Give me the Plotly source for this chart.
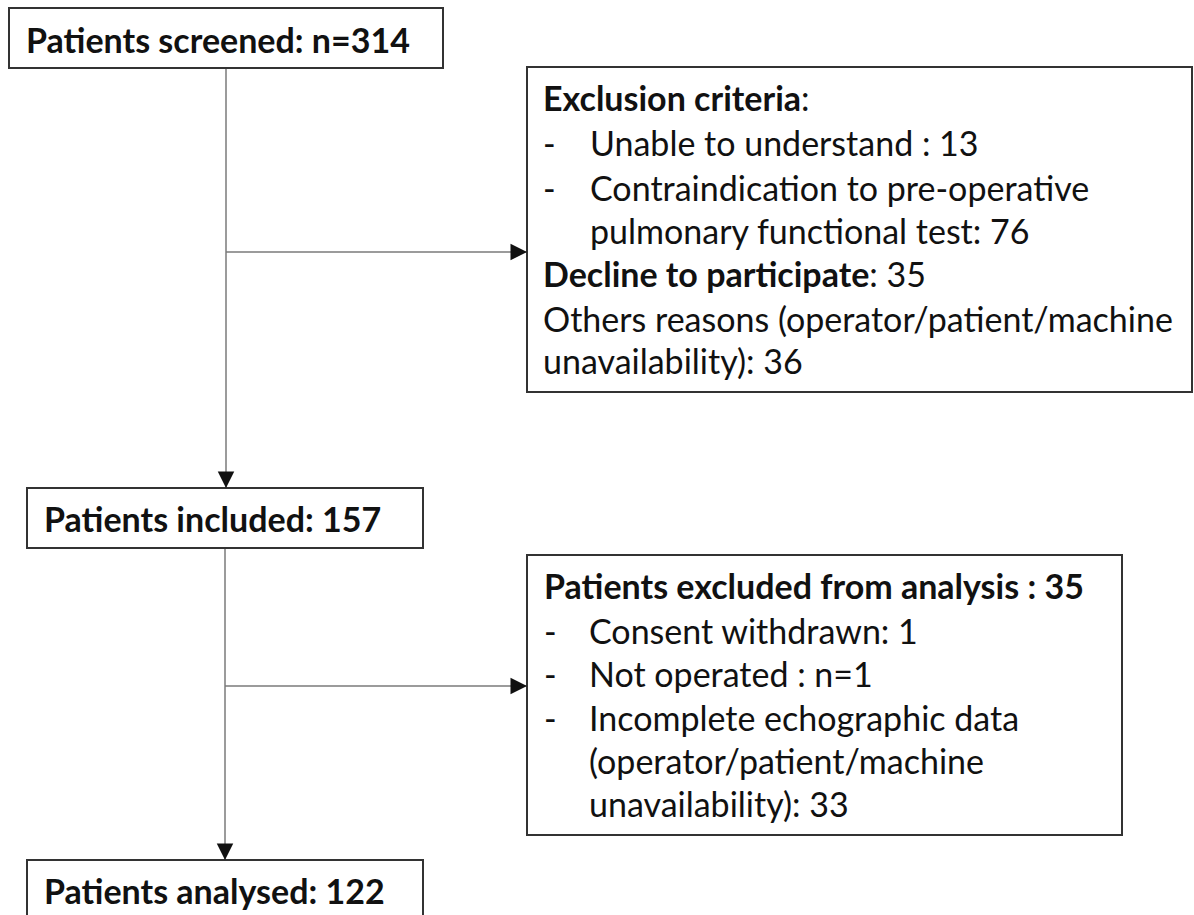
import plotly.graph_objects as go

# ---- data (flow counts and labels) ----
stage_labels = ["Patients screened", "Patients included", "Patients analysed"]
stage_counts = [314, 157, 122]
stage_prefix = ["n=", "", ""]

excl1_title = "Exclusion criteria"
excl1_items = ["Unable to understand : 13",
               "Contraindication to pre-operative",
               "pulmonary functional test: 76"]
decline_label = "Decline to participate"
decline_count = 35
others_lines = ["Others reasons (operator/patient/machine", "unavailability): 36"]

excl2_title = "Patients excluded from analysis : 35"
excl2_items = ["Consent withdrawn: 1",
               "Not operated : n=1",
               "Incomplete echographic data",
               "(operator/patient/machine",
               "unavailability): 33"]

# ---- layout constants ----
W, H = 1194, 915
FONT = "Lato"
FS = 34
TXT = "#111111"
BORDER = "#333333"
LINE = "#7a7a7a"

fig = go.Figure()
shapes = []
ann = []

def box(x0, y0, x1, y1):
    shapes.append(dict(type="rect", xref="x", yref="y", x0=x0, y0=y0, x1=x1, y1=y1,
                       line=dict(color=BORDER, width=2), fillcolor="white", layer="above"))

def text(x, y, s):
    ann.append(dict(x=x, y=y, xref="x", yref="y", text=s, showarrow=False,
                    xanchor="left", yanchor="middle",
                    font=dict(family=FONT, size=FS, color=TXT)))

def seg(x0, y0, x1, y1):
    shapes.append(dict(type="line", xref="x", yref="y", x0=x0, y0=y0, x1=x1, y1=y1,
                       line=dict(color=LINE, width=1.5), layer="below"))

def head(x, y, dx, dy):
    ann.append(dict(x=x, y=y, ax=x - dx, ay=y - dy, xref="x", yref="y",
                    axref="x", ayref="y", text="", showarrow=True,
                    arrowhead=2, arrowsize=2.2, arrowwidth=1.5, arrowcolor="#111111",
                    standoff=0))

# stage boxes
stage_boxes = [(9, 8, 443, 68), (27, 488, 423, 548), (27, 860, 423, 940)]
stage_text_pos = [(24, 39), (42, 518), (42, 890)]
for (x0, y0, x1, y1), (tx, ty), lab, pre, n in zip(stage_boxes, stage_text_pos,
                                                    stage_labels, stage_prefix, stage_counts):
    box(x0, y0, x1, y1)
    text(tx, ty, f"<b>{lab}: {pre}{n}</b>")

# connectors
seg(226, 68, 226, 488)
head(226, 488, 0, 8)
seg(226, 252, 527, 252)
head(527, 252, 8, 0)

seg(225, 548, 225, 860)
head(225, 860, 0, 8)
seg(225, 686, 527, 686)
head(527, 686, 8, 0)

# exclusion box 1
box(527, 67, 1192, 392)
ys1 = [97, 142, 187, 230, 273, 318, 360]
text(541, ys1[0], f"<b>{excl1_title}</b>:")
for i, s in enumerate(excl1_items):
    if i < 2:
        text(541, ys1[1 + i], "-")
    text(588, ys1[1 + i], s)
text(541, ys1[4], f"<b>{decline_label}</b>: {decline_count}")
text(541, ys1[5], others_lines[0])
text(541, ys1[6], others_lines[1])

# exclusion box 2
box(527, 555, 1122, 835)
ys2 = [585, 630, 673, 717, 760, 803]
text(542, ys2[0], f"<b>{excl2_title}</b>")
for i, s in enumerate(excl2_items):
    if i < 3:
        text(542, ys2[1 + i], "-")
    text(587, ys2[1 + i], s)

fig.update_layout(
    width=W, height=H,
    margin=dict(l=0, r=0, t=0, b=0),
    paper_bgcolor="white", plot_bgcolor="white",
    xaxis=dict(range=[0, W], visible=False, fixedrange=True),
    yaxis=dict(range=[H, 0], visible=False, fixedrange=True),
    shapes=shapes, annotations=ann, showlegend=False,
)

fig.write_html("out.html", config={"displayModeBar": False},
               post_script="document.body.style.margin='0';document.body.style.overflow='hidden';")
